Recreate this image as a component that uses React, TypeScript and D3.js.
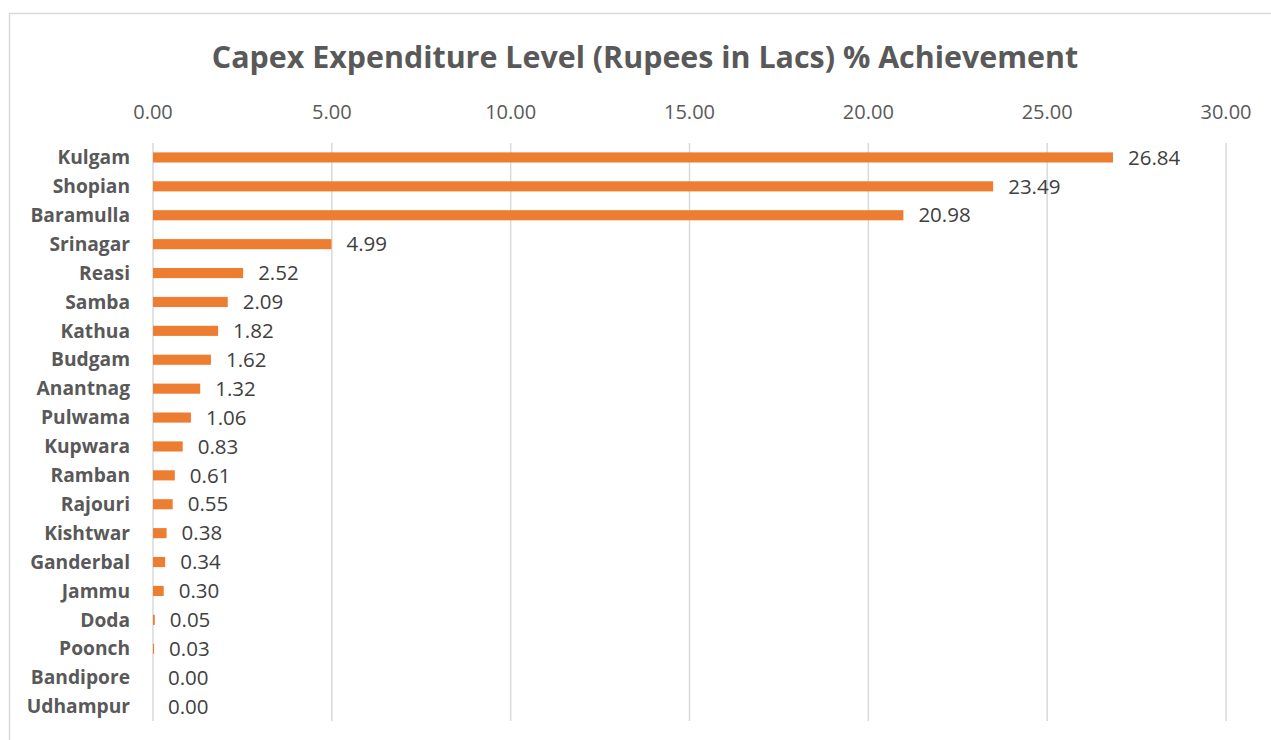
import React from "react";
import * as d3 from "d3";

const categories = [
  "Kulgam", "Shopian", "Baramulla", "Srinagar", "Reasi", "Samba", "Kathua", "Budgam",
  "Anantnag", "Pulwama", "Kupwara", "Ramban", "Rajouri", "Kishtwar", "Ganderbal", "Jammu",
  "Doda", "Poonch", "Bandipore", "Udhampur",
];
const values = [
  26.84, 23.49, 20.98, 4.99, 2.52, 2.09, 1.82, 1.62, 1.32, 1.06, 0.83, 0.61, 0.55, 0.38, 0.34,
  0.3, 0.05, 0.03, 0.0, 0.0,
];
const ticks = [0, 5, 10, 15, 20, 25, 30];
const title = "Capex Expenditure Level (Rupees in Lacs) % Achievement";

const W = 1271;
const H = 740;
const left = 153;
const right = 1226;
const top = 143;
const bottom = 721;
const font = "'Open Sans', 'Noto Sans', sans-serif";

export default function App() {
  const x = d3.scaleLinear().domain([0, 30]).range([left, right]);
  const y = d3.scaleBand<string>().domain(categories).range([top, bottom]).paddingInner(0.65).paddingOuter(0.325);
  const fmt = d3.format(".2f");
  return (
    <svg width={W} height={H} style={{ position: "absolute", left: 0, top: 0 }} fontFamily={font}>
      <rect x={0} y={0} width={W} height={H} fill="#fff" />
      <rect x={9.5} y={13.5} width={W + 20} height={H + 20} fill="none" stroke="#d9d9d9" strokeWidth={1.5} />
      <text x={645} y={68} textAnchor="middle" fontSize={30.4} fontWeight="bold" fill="#595959">{title}</text>
      {ticks.map((t) => (
        <g key={t}>
          <line x1={x(t)} x2={x(t)} y1={top} y2={bottom} stroke="#d9d9d9" strokeWidth={1.5} />
          <text x={x(t)} y={119} textAnchor="middle" fontSize={20} fill="#595959">{fmt(t)}</text>
        </g>
      ))}
      {categories.map((c, i) => {
        const yc = (y(c) as number) + y.bandwidth() / 2;
        return (
          <g key={c}>
            <rect x={x(0)} y={y(c)} width={x(values[i]) - x(0)} height={y.bandwidth()} fill="#ED7D31" />
            <text x={130} y={yc} dy="0.35em" textAnchor="end" fontSize={19.2} fontWeight="bold" fill="#595959">{c}</text>
            <text x={x(values[i]) + 15} y={yc} dy="0.35em" fontSize={20.5} fill="#404040">{fmt(values[i])}</text>
          </g>
        );
      })}
    </svg>
  );
}
